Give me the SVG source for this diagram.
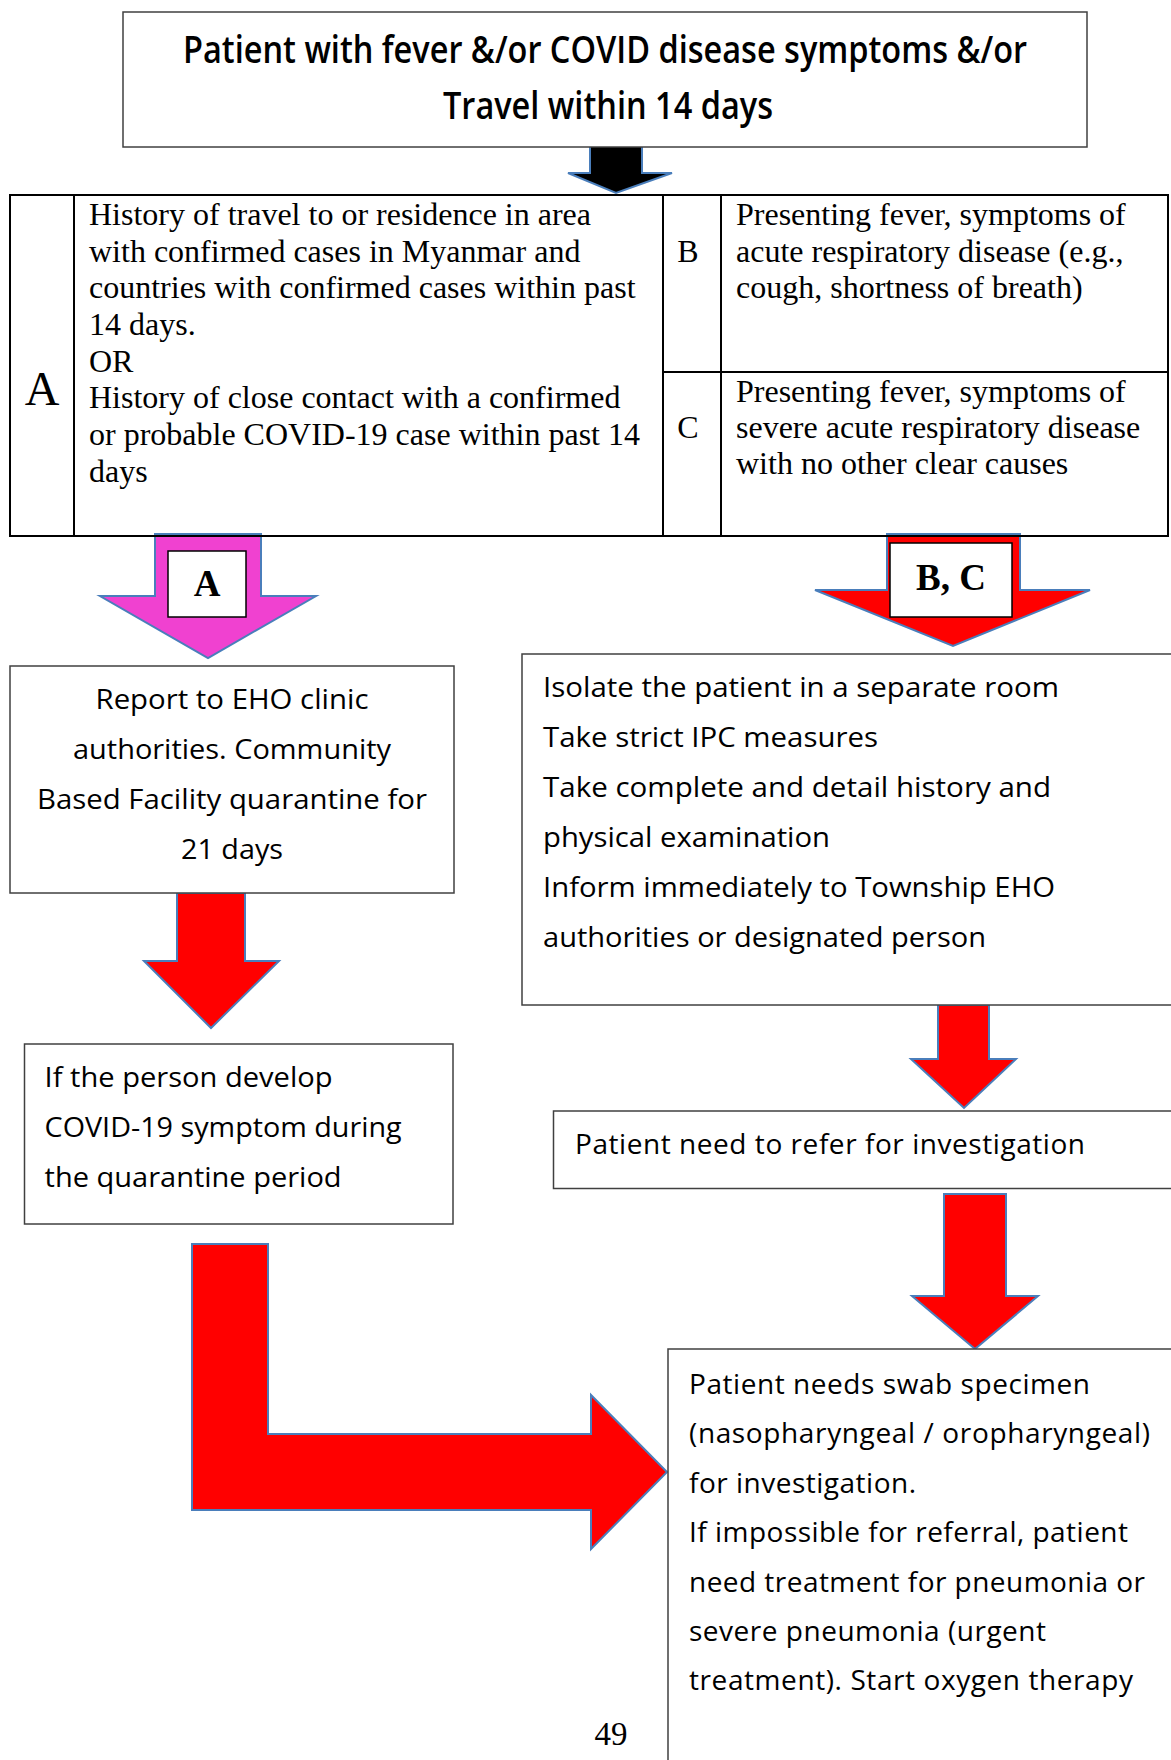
<svg xmlns="http://www.w3.org/2000/svg" width="1171" height="1760" viewBox="0 0 1171 1760">
<style>
.box{fill:#fff;stroke:#404040;stroke-width:1.5}
.tbl{fill:none;stroke:#000;stroke-width:2}
.arrow{stroke:#4A7EBB;stroke-width:2;stroke-linejoin:miter}
.red{fill:#FF0000}
.pink{fill:#F041D0}
.blk{fill:#000}
.lbl{fill:#fff;stroke:#000;stroke-width:1.5}
.title{font-family:"Open Sans","Liberation Sans",sans-serif;font-weight:600;font-size:38px;fill:#000}
.serif{font-family:"Liberation Serif","Times New Roman",serif;font-size:32px;fill:#000}
.big{font-size:48px}
.let{font-size:33px}
.serifb{font-family:"Liberation Serif","Times New Roman",serif;font-weight:bold;font-size:37px;fill:#000}
.sans{font-family:"Open Sans","Liberation Sans",sans-serif;font-size:28px;fill:#000}
.wide{font-family:"Open Sans","Liberation Sans",sans-serif;font-size:28px;fill:#000}
</style>

<g id="connectors">
  <polygon class="arrow blk" points="590,146 642,146 642,173 672,173 616,193 568,173 590,173"/>
  <polygon class="arrow pink" points="155,534 261,534 261,596 316,596 208,658 100,596 155,596"/>
  <polygon class="arrow red" points="887,534 1020,534 1020,590 1090,590 953,646 815,590 887,590"/>
  <polygon class="arrow red" points="177,893 245,893 245,961 279,961 211,1028 144,961 177,961"/>
  <polygon class="arrow red" points="938,1005 989,1005 989,1059 1016,1059 964,1108 911,1059 938,1059"/>
  <polygon class="arrow red" points="944,1194 1006,1194 1006,1296 1038,1296 975,1349 912,1296 944,1296"/>
  <polygon class="arrow red" points="192,1244 268,1244 268,1434 591,1434 591,1395 667,1472 591,1549 591,1510 192,1510"/>
</g>

<g id="node-start">
  <rect class="box" x="123" y="12" width="964" height="135"/>
  <text class="title" x="605" y="63" text-anchor="middle" textLength="844" lengthAdjust="spacingAndGlyphs">Patient with fever &amp;/or COVID disease symptoms &amp;/or</text>
  <text class="title" x="608" y="119" text-anchor="middle" textLength="330" lengthAdjust="spacingAndGlyphs">Travel within 14 days</text>
</g>

<g id="node-criteria">
  <rect class="tbl" x="10" y="195" width="1158" height="341"/>
  <line class="tbl" x1="74" y1="195" x2="74" y2="536"/>
  <line class="tbl" x1="663" y1="195" x2="663" y2="536"/>
  <line class="tbl" x1="721" y1="195" x2="721" y2="536"/>
  <line class="tbl" x1="663" y1="372" x2="1168" y2="372"/>
  <text class="serif big" x="42" y="405" text-anchor="middle">A</text>
  <text class="serif" x="89" y="225">History of travel to or residence in area</text>
  <text class="serif" x="89" y="261.7">with confirmed cases in Myanmar and</text>
  <text class="serif" x="89" y="298.3">countries with confirmed cases within past</text>
  <text class="serif" x="89" y="335">14 days.</text>
  <text class="serif" x="89" y="371.7">OR</text>
  <text class="serif" x="89" y="408.3">History of close contact with a confirmed</text>
  <text class="serif" x="89" y="445">or probable COVID-19 case within past 14</text>
  <text class="serif" x="89" y="481.7">days</text>
  <text class="serif" x="688" y="262" text-anchor="middle">B</text>
  <text class="serif" x="736" y="225">Presenting fever, symptoms of</text>
  <text class="serif" x="736" y="262">acute respiratory disease (e.g.,</text>
  <text class="serif" x="736" y="298">cough, shortness of breath)</text>
  <text class="serif" x="688" y="438" text-anchor="middle">C</text>
  <text class="serif" x="736" y="402">Presenting fever, symptoms of</text>
  <text class="serif" x="736" y="438">severe acute respiratory disease</text>
  <text class="serif" x="736" y="474">with no other clear causes</text>
</g>

<g id="label-a">
  <rect class="lbl" x="168" y="551" width="78" height="66"/>
  <text class="serifb" x="207" y="596" text-anchor="middle">A</text>
</g>

<g id="label-bc">
  <rect class="lbl" x="890" y="543" width="122" height="74"/>
  <text class="serifb" x="951" y="590" text-anchor="middle">B, C</text>
</g>

<g id="node-report">
  <rect class="box" x="10" y="666" width="444" height="227"/>
  <text class="sans" x="232" y="709" text-anchor="middle" textLength="273" lengthAdjust="spacingAndGlyphs">Report to EHO clinic</text>
  <text class="sans" x="232" y="759" text-anchor="middle" textLength="318" lengthAdjust="spacingAndGlyphs">authorities. Community</text>
  <text class="sans" x="232" y="809" text-anchor="middle" textLength="390" lengthAdjust="spacingAndGlyphs">Based Facility quarantine for</text>
  <text class="sans" x="232" y="859" text-anchor="middle" textLength="102" lengthAdjust="spacingAndGlyphs">21 days</text>
</g>

<g id="node-isolate">
  <rect class="box" x="522" y="654" width="670" height="351"/>
  <text class="sans" x="543" y="697" textLength="516" lengthAdjust="spacingAndGlyphs">Isolate the patient in a separate room</text>
  <text class="sans" x="543" y="747" textLength="335" lengthAdjust="spacingAndGlyphs">Take strict IPC measures</text>
  <text class="sans" x="543" y="797" textLength="508" lengthAdjust="spacingAndGlyphs">Take complete and detail history and</text>
  <text class="sans" x="543" y="847" textLength="287" lengthAdjust="spacingAndGlyphs">physical examination</text>
  <text class="sans" x="543" y="897" textLength="512" lengthAdjust="spacingAndGlyphs">Inform immediately to Township EHO</text>
  <text class="sans" x="543" y="947" textLength="443" lengthAdjust="spacingAndGlyphs">authorities or designated person</text>
</g>

<g id="node-develop">
  <rect class="box" x="24.5" y="1044" width="428.5" height="180"/>
  <text class="sans" x="44.6" y="1087" textLength="288" lengthAdjust="spacingAndGlyphs">If the person develop</text>
  <text class="sans" x="44.6" y="1137" textLength="357" lengthAdjust="spacingAndGlyphs">COVID-19 symptom during</text>
  <text class="sans" x="44.6" y="1187" textLength="297" lengthAdjust="spacingAndGlyphs">the quarantine period</text>
</g>

<g id="node-refer">
  <rect class="box" x="553.5" y="1111" width="640" height="77.5"/>
  <text class="wide" x="575" y="1154" textLength="510" lengthAdjust="spacing">Patient need to refer for investigation</text>
</g>

<g id="node-swab">
  <rect class="box" x="668" y="1349" width="530" height="440"/>
  <text class="wide" x="689" y="1394" textLength="401" lengthAdjust="spacing">Patient needs swab specimen</text>
  <text class="wide" x="689" y="1443.4" textLength="461" lengthAdjust="spacing">(nasopharyngeal / oropharyngeal)</text>
  <text class="wide" x="689" y="1492.8" textLength="227" lengthAdjust="spacing">for investigation.</text>
  <text class="wide" x="689" y="1542.2" textLength="439" lengthAdjust="spacing">If impossible for referral, patient</text>
  <text class="wide" x="689" y="1591.6" textLength="456" lengthAdjust="spacing">need treatment for pneumonia or</text>
  <text class="wide" x="689" y="1641" textLength="357" lengthAdjust="spacing">severe pneumonia (urgent</text>
  <text class="wide" x="689" y="1690.4" textLength="444" lengthAdjust="spacing">treatment). Start oxygen therapy</text>
</g>

<g id="page-number">
  <text class="serif let" x="611" y="1745" text-anchor="middle">49</text>
</g>
</svg>
